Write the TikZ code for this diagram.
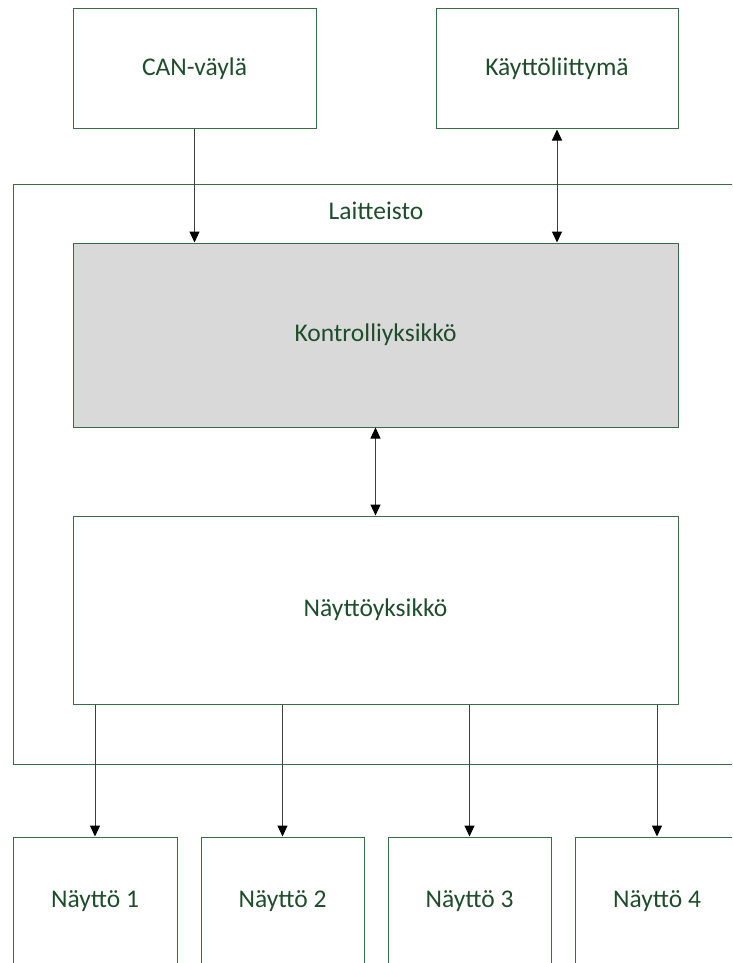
\documentclass[tikz,border=0pt]{standalone}
\usepackage{fontspec}
\setmainfont{Carlito}
\usetikzlibrary{arrows.meta}
\definecolor{txtgreen}{HTML}{1E4D2B}
\definecolor{boxgreen}{HTML}{3A6B46}
\definecolor{fillgray}{HTML}{D9D9D9}
\definecolor{arrowgray}{HTML}{3C3C3C}
\tikzset{
  blk/.style={draw=boxgreen, line width=1pt, inner sep=0pt, text=txtgreen,
    font=\fontsize{25.5}{30}\selectfont},
  tip/.tip={Triangle[length=11pt,width=10pt,fill=black,color=black]},
  conn/.style={draw=arrowgray, line width=1pt, -tip},
  biconn/.style={draw=arrowgray, line width=1pt, tip-tip},
  lbl/.style={text=txtgreen, inner sep=0pt, font=\fontsize{25.5}{30}\selectfont}
}
\begin{document}
\begin{tikzpicture}[x=1pt,y=-1pt]
\useasboundingbox (0,0) rectangle (732,963);
\clip (0,0) rectangle (732,963);
% outer frame
\node[blk, minimum width=727pt, minimum height=580pt] (frame) at (376.5,474) {};
\node[lbl] (frametxt) at (376,211) {Laitteisto};
% top boxes
\node[blk, minimum width=243pt, minimum height=120pt] (can) at (194.5,69) {CAN-väylä};
\node[blk, minimum width=242pt, minimum height=120pt] (ui) at (557,69) {Käyttöliittymä};
% inner boxes
\node[blk, fill=fillgray, minimum width=605pt, minimum height=184pt] (ctrl) at (375.5,335) {Kontrolliyksikkö};
\node[blk, minimum width=605pt, minimum height=188pt] (disp) at (375.5,610) {Näyttöyksikkö};
% bottom boxes
\node[blk, minimum width=164pt, minimum height=128pt] (n1) at (95,901) {Näyttö 1};
\node[blk, minimum width=163pt, minimum height=128pt] (n2) at (282.5,901) {Näyttö 2};
\node[blk, minimum width=163pt, minimum height=128pt] (n3) at (469.5,901) {Näyttö 3};
\node[blk, minimum width=163pt, minimum height=128pt] (n4) at (657,901) {Näyttö 4};
% connectors
\draw[conn] (can.south) -- (can.south |- ctrl.north);
\draw[biconn] (ui.south) -- (ui.south |- ctrl.north);
\draw[biconn] (ctrl.south) -- (ctrl.south |- disp.north);
\draw[conn] (disp.south -| n1.north) -- (n1.north);
\draw[conn] (disp.south -| n2.north) -- (n2.north);
\draw[conn] (disp.south -| n3.north) -- (n3.north);
\draw[conn] (disp.south -| n4.north) -- (n4.north);
\end{tikzpicture}
\end{document}
